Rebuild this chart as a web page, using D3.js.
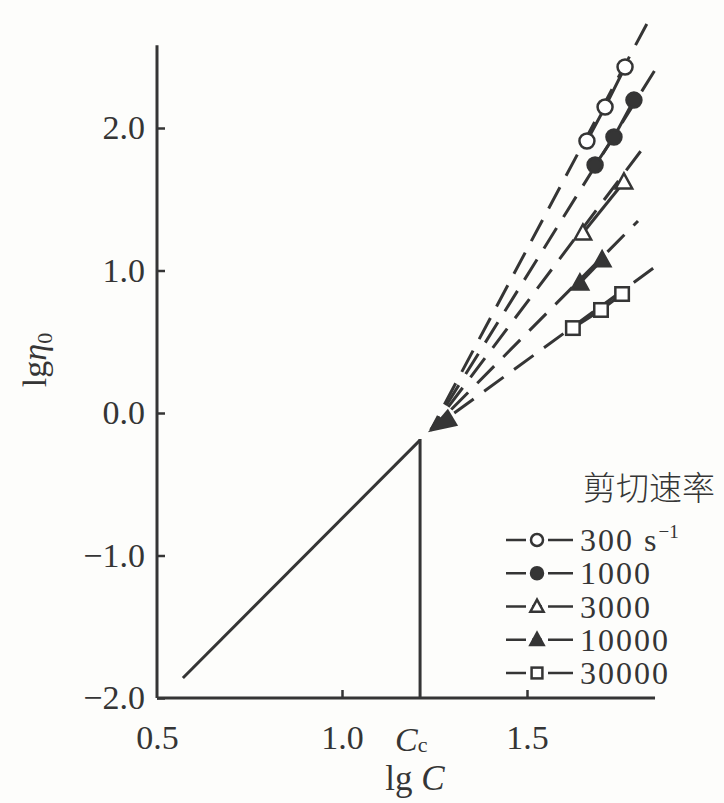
<!DOCTYPE html>
<html>
<head>
<meta charset="utf-8">
<script src="https://cdn.jsdelivr.net/npm/d3@7"></script>
<style>
  body { margin: 0; background: #fdfdfb; }
</style>
</head>
<body>
<script>
// data
var rateLabels = ["300", "1000", "3000", "10000", "30000"]
var markerTypes = ["circleOpen", "circleFilled", "triangleOpen", "triangleFilled", "squareOpen"]
var markerX = [
  [1.662, 1.711, 1.765],
  [1.684, 1.735, 1.789],
  [1.651, 1.762],
  [1.643, 1.703],
  [1.624, 1.700, 1.757]
]
var markerY = [
  [1.909, 2.147, 2.428],
  [1.740, 1.937, 2.196],
  [1.263, 1.621],
  [0.912, 1.074],
  [0.596, 0.723, 0.835]
]
var dashEndX = [1.832, 1.846, 1.824, 1.800, 1.846]
var dashEndY = [2.770, 2.407, 1.895, 1.347, 1.025]
var convergeX = 1.24, convergeY = -0.12
var arrowTip = [1.232, -0.135], arrowBack = [1.300, -0.030]
var lowLineX = [0.57, 1.211], lowLineY = [-1.86, -0.19]
var cc = 1.211
var xTicks = [0.5, 1.0, 1.5]
var yTicks = [-2, -1, 0, 1, 2]
var xMax = 1.846, yMax = 2.58

var ink = "#353535"
var serif = "'Liberation Serif', 'DejaVu Serif', serif"
var width = 724, height = 803

var svg = d3.select("body").append("svg")
  .attr("width", width)
  .attr("height", height)

var x = d3.scaleLinear().domain([0.5, 1.5]).range([157, 527])
var y = d3.scaleLinear().domain([-2, 2]).range([698, 128])

// axes
var yAxis = d3.axisLeft(y).tickValues(yTicks).tickSize(-8).tickPadding(12)
  .tickFormat(function(d) { return (d < 0 ? "\u2212" : "") + Math.abs(d).toFixed(1) })
var gy = svg.append("g").attr("transform", "translate(" + x(0.5) + ",0)").call(yAxis)
gy.select(".domain").remove()
gy.selectAll("text").style("font-size", "34px").attr("fill", ink)
gy.selectAll("line").attr("stroke", ink).attr("stroke-width", 2.5)

var xAxis = d3.axisBottom(x).tickValues(xTicks).tickSize(-8).tickPadding(27)
  .tickFormat(d3.format(".1f"))
var gx = svg.append("g").attr("transform", "translate(0," + y(-2) + ")").call(xAxis)
gx.select(".domain").remove()
gx.selectAll("text").style("font-size", "34px").attr("fill", ink)
gx.selectAll("line").attr("stroke", ink).attr("stroke-width", 2.5)
gx.selectAll(".tick").filter(function(d) { return d == 0.5 }).select("line").remove()

svg.append("line")
  .attr("x1", x(0.5)).attr("x2", x(0.5))
  .attr("y1", y(-2)).attr("y2", y(yMax))
  .attr("stroke", ink).attr("stroke-width", 3)
svg.append("line")
  .attr("x1", x(0.5)).attr("x2", x(xMax))
  .attr("y1", y(-2)).attr("y2", y(-2))
  .attr("stroke", ink).attr("stroke-width", 3)

// Cc label
var ccText = svg.append("text")
  .attr("x", x(cc) - 25).attr("y", y(-2) + 53)
  .style("font-size", "34px").attr("fill", ink)
ccText.append("tspan").style("font-style", "italic").text("C")
ccText.append("tspan").attr("dy", 1).style("font-size", "22px").text("c")

// axis titles
var xt = svg.append("text")
  .attr("x", 415).attr("y", 790)
  .attr("text-anchor", "middle")
  .style("font-size", "35px").attr("fill", ink)
xt.append("tspan").text("lg ")
xt.append("tspan").style("font-style", "italic").text("C")

var yt = svg.append("text")
  .attr("transform", "translate(46,360) rotate(-90)")
  .attr("text-anchor", "middle")
  .style("font-size", "34px").attr("fill", ink)
yt.append("tspan").text("lg")
yt.append("tspan").style("font-style", "italic").text("\u03b7")
yt.append("tspan").attr("dy", 6).style("font-size", "22px").text("0")

// solid line below Cc and the vertical drop
var line = d3.line().x(function(d) { return x(d[0]) }).y(function(d) { return y(d[1]) })
svg.append("path")
  .datum(d3.zip(lowLineX, lowLineY))
  .attr("d", line)
  .attr("fill", "none").attr("stroke", ink).attr("stroke-width", 3)
svg.append("line")
  .attr("x1", x(cc)).attr("x2", x(cc))
  .attr("y1", y(lowLineY[1]) - 1).attr("y2", y(-2))
  .attr("stroke", ink).attr("stroke-width", 3)

// dashed extrapolations
rateLabels.forEach(function(r, i) {
  svg.append("path")
    .datum([[convergeX, convergeY], [dashEndX[i], dashEndY[i]]])
    .attr("d", line)
    .attr("fill", "none").attr("stroke", ink).attr("stroke-width", 3)
    .attr("stroke-dasharray", "24,13")
    .attr("stroke-dashoffset", 8)
  svg.append("path")
    .datum(d3.zip(markerX[i], markerY[i]))
    .attr("d", line)
    .attr("fill", "none").attr("stroke", ink).attr("stroke-width", 3)
})

// arrow head
var tip = [x(arrowTip[0]), y(arrowTip[1])]
var back = [x(arrowBack[0]), y(arrowBack[1])]
var dx = back[0] - tip[0], dy = back[1] - tip[1]
var len = Math.sqrt(dx * dx + dy * dy)
var px = -dy / len * 10, py = dx / len * 10
svg.append("path")
  .attr("d", "M" + tip + "L" + [back[0] + px, back[1] + py] + "L" + [back[0] - px, back[1] - py] + "Z")
  .attr("fill", ink)

function drawMarker(g, type, cx, cy, s) {
  var filled = type.indexOf("Filled") >= 0
  var fill = filled ? ink : "#fff"
  if (type.indexOf("circle") == 0) {
    g.append("circle").attr("cx", cx).attr("cy", cy).attr("r", s * 0.5)
      .attr("fill", fill).attr("stroke", ink).attr("stroke-width", 2.5)
  } else if (type.indexOf("triangle") == 0) {
    var h = s * 0.95
    g.append("path")
      .attr("d", "M" + [cx, cy - h * 0.6] + "L" + [cx + s * 0.55, cy + h * 0.45] + "L" + [cx - s * 0.55, cy + h * 0.45] + "Z")
      .attr("fill", fill).attr("stroke", ink).attr("stroke-width", 2.5)
  } else {
    g.append("rect").attr("x", cx - s * 0.45).attr("y", cy - s * 0.45)
      .attr("width", s * 0.9).attr("height", s * 0.9)
      .attr("fill", fill).attr("stroke", ink).attr("stroke-width", 2.5)
  }
}

rateLabels.forEach(function(r, i) {
  markerX[i].forEach(function(mx, j) {
    drawMarker(svg, markerTypes[i], x(mx), y(markerY[i][j]), 15)
  })
})

// legend
var legendY = d3.scalePoint().domain(rateLabels).range([540, 673])
rateLabels.forEach(function(r, i) {
  var ly = legendY(r)
  svg.append("line")
    .attr("x1", 506).attr("x2", 573)
    .attr("y1", ly).attr("y2", ly)
    .attr("stroke", ink).attr("stroke-width", 2.5)
  svg.append("rect").attr("x", 526).attr("y", ly - 3).attr("width", 6).attr("height", 6).attr("fill", "#fff")
  svg.append("rect").attr("x", 542).attr("y", ly - 3).attr("width", 6).attr("height", 6).attr("fill", "#fff")
  drawMarker(svg, markerTypes[i], 537, ly, 12)
  var t = svg.append("text")
    .attr("x", 580).attr("y", ly + 11)
    .style("font-size", "32px").style("letter-spacing", "2px").attr("fill", ink)
    .text(r)
  if (i == 0) {
    t.append("tspan").text(" s")
    t.append("tspan").attr("dy", -13).style("font-size", "19px").style("letter-spacing", "0px").text("\u22121")
  }
})

// serif everywhere except the Chinese legend title
svg.selectAll("text").style("font-family", serif)
svg.selectAll("g").attr("font-family", null)

svg.append("text")
  .attr("x", 583).attr("y", 500)
  .style("font-family", "'Noto Sans CJK SC', sans-serif")
  .style("font-size", "33px").style("font-weight", 300)
  .attr("fill", ink)
  .text("剪切速率")
</script>
</body>
</html>
